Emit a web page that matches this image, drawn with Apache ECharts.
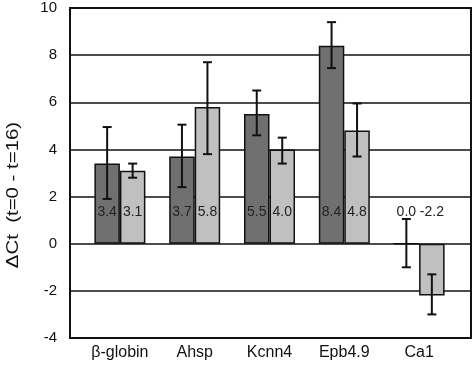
<!DOCTYPE html>
<html><head><meta charset="utf-8">
<script src="https://cdn.jsdelivr.net/npm/echarts@6/dist/echarts.min.js"></script>
<style>html,body{margin:0;padding:0;background:#fff}#c{width:475px;height:371px}</style>
</head><body><div id="c"></div>
<script>
var categories = ['β-globin', 'Ahsp', 'Kcnn4', 'Epb4.9', 'Ca1'];
var darkValues = [3.4, 3.7, 5.5, 8.4, 0.0];
var lightValues = [3.1, 5.8, 4.0, 4.8, -2.2];
var darkLow = [1.9, 2.4, 4.6, 7.45, -1.0];
var darkHigh = [4.95, 5.05, 6.5, 9.4, 1.05];
var lightLow = [2.8, 3.8, 3.4, 3.7, -3.0];
var lightHigh = [3.4, 7.7, 4.5, 5.95, -1.3];
var yTicks = [-4, -2, 0, 2, 4, 6, 8, 10];
var yTitle = 'ΔCt  (t=0 - t=16)';
var labelLevel = 1.35;

var FONT = 'Liberation Sans, Arial, sans-serif';
var BW = 25.5;

function errData(vals, low, high) {
  return vals.map(function (v, i) { return [i, low[i], high[i], v]; });
}
function makeRender(offset) {
  return function (params, api) {
    var i = api.value(0);
    var pLow = api.coord([i, api.value(1)]);
    var pHigh = api.coord([i, api.value(2)]);
    var pLab = api.coord([i, labelLevel]);
    var x = pLow[0] + offset;
    var cap = 4.5;
    var st = { stroke: '#111', lineWidth: 2 };
    var v = api.value(3);
    return {
      type: 'group',
      children: [
        { type: 'line', shape: { x1: x, y1: pLow[1], x2: x, y2: pHigh[1] }, style: st },
        { type: 'line', shape: { x1: x - cap, y1: pLow[1], x2: x + cap, y2: pLow[1] }, style: st },
        { type: 'line', shape: { x1: x - cap, y1: pHigh[1], x2: x + cap, y2: pHigh[1] }, style: st },
        { type: 'text', x: x, y: pLab[1], style: { text: v.toFixed(1), fill: '#222', font: '14px ' + FONT, align: 'center', verticalAlign: 'middle' } }
      ]
    };
  };
}

var chart = echarts.init(document.getElementById('c'));
chart.setOption({
  animation: false,
  graphic: [
    { type: 'text', x: 13, y: 195, rotation: Math.PI / 2, scaleX: 1.2,
      style: { text: yTitle, fill: '#111', font: '17px ' + FONT, align: 'center', verticalAlign: 'middle' } }
  ],
  grid: [
    { left: 70, right: 4, top: 8, bottom: 33, show: true, borderColor: '#111', borderWidth: 2, backgroundColor: 'transparent' },
    { left: 82.5, right: 18.5, top: 8, bottom: 33 }
  ],
  xAxis: [
    { type: 'value', gridIndex: 0, show: false, min: 0, max: 1 },
    { type: 'category', gridIndex: 1, data: categories,
      axisLine: { show: false }, axisTick: { show: false },
      axisLabel: { color: '#111', fontSize: 16, fontFamily: FONT, margin: 7 } }
  ],
  yAxis: [
    { type: 'value', gridIndex: 0, min: -4, max: 10, interval: 2,
      axisLine: { show: false }, axisTick: { show: false },
      axisLabel: { color: '#111', fontSize: 15, fontFamily: FONT, margin: 13,
        customValues: yTicks },
      splitLine: { show: true, lineStyle: { color: '#111', width: 1.5 } } },
    { type: 'value', gridIndex: 1, min: -4, max: 10, interval: 2, show: false, splitLine: { show: false } }
  ],
  series: [
    { type: 'bar', xAxisIndex: 1, yAxisIndex: 1, data: darkValues, barWidth: BW, barGap: '0%',
      itemStyle: { color: '#707070', borderColor: '#111', borderWidth: 1.5 } },
    { type: 'bar', xAxisIndex: 1, yAxisIndex: 1, data: lightValues, barWidth: BW, barGap: '0%',
      itemStyle: { color: '#c0c0c0', borderColor: '#111', borderWidth: 1.5 } },
    { type: 'custom', xAxisIndex: 1, yAxisIndex: 1, renderItem: makeRender(-BW / 2),
      data: errData(darkValues, darkLow, darkHigh), z: 5 },
    { type: 'custom', xAxisIndex: 1, yAxisIndex: 1, renderItem: makeRender(BW / 2),
      data: errData(lightValues, lightLow, lightHigh), z: 5 }
  ]
});
</script></body></html>
